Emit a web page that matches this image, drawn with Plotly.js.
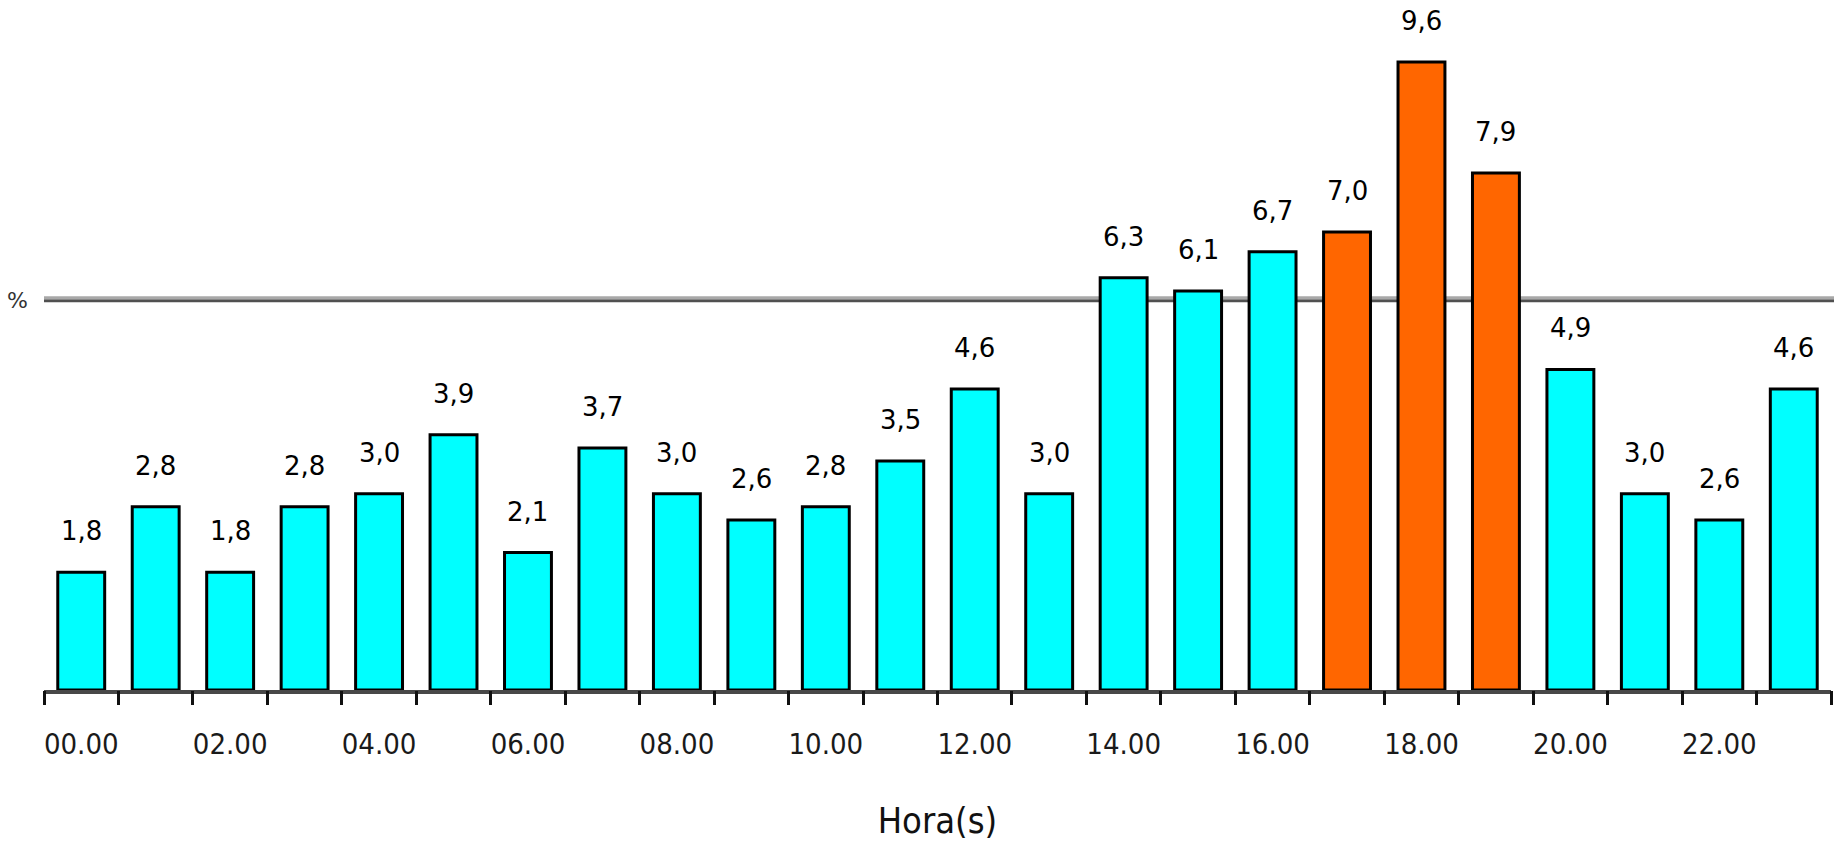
<!DOCTYPE html>
<html><head><meta charset="utf-8">
<script src="https://cdn.plot.ly/plotly-3.0.1.min.js"></script>
<style>html,body{margin:0;padding:0;background:#fff}#chart{width:1834px;height:841px}</style>
</head><body><div id="chart"></div>
<script>
const hours = ['00.00','01.00','02.00','03.00','04.00','05.00','06.00','07.00','08.00','09.00','10.00','11.00',
               '12.00','13.00','14.00','15.00','16.00','17.00','18.00','19.00','20.00','21.00','22.00','23.00'];
const percent = [1.8,2.8,1.8,2.8,3.0,3.9,2.1,3.7,3.0,2.6,2.8,3.5,4.6,3.0,6.3,6.1,6.7,7.0,9.6,7.9,4.9,3.0,2.6,4.6];
const tickLabels = ['00.00','02.00','04.00','06.00','08.00','10.00','12.00','14.00','16.00','18.00','20.00','22.00'];
const peakHours = ['17.00','18.00','19.00'];
const referenceLevel = 5.95;
const yLabel = '%';
const xTitle = 'Hora(s)';

const CYAN = '#00FFFF', ORANGE = '#FF6600';
const barColors = hours.map(h => peakHours.includes(h) ? ORANGE : CYAN);
const fmt = v => v.toFixed(1).replace('.', ',');

const bars = {
  type: 'bar', x: hours, y: percent,
  marker: {color: barColors, line: {color: '#000', width: 3}},
  cliponaxis: false, hoverinfo: 'x+y', showlegend: false
};
const tickHolder = {type: 'scatter', x: [], y: [], xaxis: 'x2', yaxis: 'y', showlegend: false, hoverinfo: 'skip'};

const valueLabels = hours.map((h, i) => ({
  x: h, y: percent[i], xref: 'x', yref: 'y', text: fmt(percent[i]),
  showarrow: false, yanchor: 'bottom', yshift: 24,
  font: {family: 'DejaVu Sans, sans-serif', size: 26, color: '#000'}
}));
valueLabels.push({
  xref: 'paper', x: 0, xanchor: 'right', xshift: -14, yref: 'y', y: referenceLevel, yanchor: 'middle',
  text: yLabel, showarrow: false, font: {family: 'DejaVu Sans, sans-serif', size: 22, color: '#333'}
});

const layout = {
  width: 1834, height: 841,
  margin: {l: 44, r: 3, t: 3, b: 151},
  paper_bgcolor: '#fff', plot_bgcolor: '#fff',
  bargap: 0.37,
  xaxis: {
    type: 'category', range: [-0.5, 23.5],
    tickmode: 'array', tickvals: tickLabels, ticktext: tickLabels,
    ticks: '', ticklabelstandoff: 25,
    tickfont: {family: 'DejaVu Sans Condensed, sans-serif', size: 29, color: '#1a1a1a'},
    showline: true, linecolor: '#484848', linewidth: 4,
    showgrid: false, zeroline: false,
    title: {text: xTitle, standoff: 49, font: {family: 'DejaVu Sans Condensed, sans-serif', size: 36, color: '#111'}}
  },
  xaxis2: {
    overlaying: 'x', anchor: 'y', side: 'bottom', type: 'linear', range: [-0.5, 23.5],
    tickmode: 'linear', tick0: -0.5, dtick: 1, ticks: 'outside', ticklen: 14, tickwidth: 3, tickcolor: '#111',
    showticklabels: false, showline: false, showgrid: false, zeroline: false
  },
  yaxis: {range: [0, 10.5], visible: false, showgrid: false, zeroline: false},
  shapes: [
    {type: 'line', layer: 'below', xref: 'paper', x0: 0, x1: 1.002, yref: 'y', y0: referenceLevel, y1: referenceLevel,
     line: {color: '#505050', width: 3}},
    {type: 'line', layer: 'below', xref: 'paper', x0: 0, x1: 1.002, yref: 'y', ysizemode: 'pixel', yanchor: referenceLevel,
     y0: 3, y1: 3, line: {color: '#a8a8a8', width: 3}},
    {type: 'line', layer: 'above', xref: 'paper', x0: 0, x1: 1.002, yref: 'y', ysizemode: 'pixel', yanchor: 0,
     y0: -6, y1: -6, line: {color: '#b8b8b8', width: 4}}
  ],
  annotations: valueLabels
};

Plotly.newPlot('chart', [bars, tickHolder], layout, {displayModeBar: false, staticPlot: true});
</script></body></html>
